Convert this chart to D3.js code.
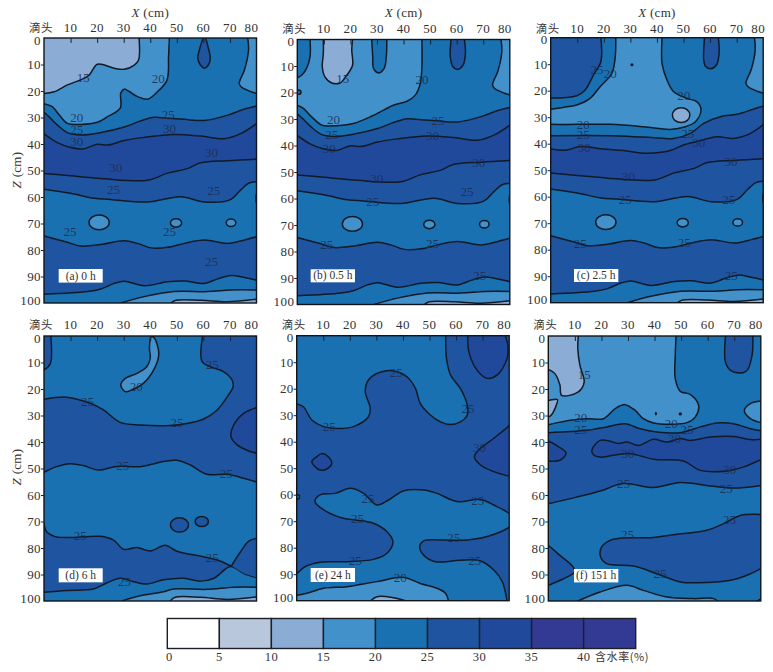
<!DOCTYPE html>
<html><head><meta charset="utf-8">
<script src="https://cdn.jsdelivr.net/npm/d3@7"></script>
<style>html,body{margin:0;padding:0;background:#fff}svg{display:block}</style>
</head><body><svg id="c" width="773" height="672"></svg>
<script>
// ---------- categories, ticks ----------
const legendValues = [0,5,10,15,20,25,30,35,40];
const legendUnit = "含水率(%)";
const xTickValues = [10,20,30,40,50,60,70,80];
const zTickValues = [0,10,20,30,40,50,60,70,80,90,100];
const emitterLabel = "滴头";
const panelNames = ["(a) 0 h","(b) 0.5 h","(c) 2.5 h","(d) 6 h","(e) 24 h","(f) 151 h"];
// band index = floor(moisture / 5)
const B10=2,B15=3,B20=4,B25=5,B30=6;

// ---------- isolines shared by (a)(b)(c): [X cm, Z cm] ----------
const iso25Upper=[[0,28],[1.9,29.7],[5,32.8],[8.8,35.7],[13.8,36.6],[21.4,35.7],[30.2,33.6],[36.5,31.2],[41.5,29.9],[46.5,30.3],[52.8,30.7],[60.4,31.1],[69.2,29.1],[75.5,26.8],[80,25.7]];
const iso30Upper=[[0,36.2],[5,39.5],[10,41.3],[14.5,41.9],[20.1,40.1],[23.9,40.4],[30.2,38.7],[37.7,37.5],[49,36.4],[59.1,37],[67.9,38],[74.2,36],[80,32.3]];
const iso30Lower=[[0,51.1],[10,52],[21.4,53],[39,53.7],[46.5,51],[54,49.3],[59,47.1],[69.2,46.3],[80,45.7]];
const iso25Mid=[[0,57.1],[10,58.6],[19,60.5],[25,60.9],[39,61.9],[51.5,59.9],[60.4,61.9],[70,61.1],[74,57.4],[77,54.8],[80,54.2]];
const iso25Low=[[0,74.7],[8.8,77.1],[13.8,78.5],[21.4,77.9],[30.2,76.5],[35.2,77.5],[40.3,79.2],[46.5,79],[52.8,77.5],[60.4,76.2],[69.2,77.5],[75.5,76.2],[80,75]];
const iso25Deep=[[0,96.7],[16.4,95.7],[21.4,94.7],[26.4,92.6],[30.2,91.8],[37.7,93.5],[46.5,92],[52.8,91.7],[60.4,92.6],[65.4,90.9],[70.4,89.6],[75.5,90.4],[80,91.4]];
const iso20Deep=[[28.9,100],[37.7,97.6],[49,95.7],[61.6,95.7],[70.4,95.1],[80,95.1]];
const iso15Deep=[[47.8,100],[49.7,99],[59.1,99],[69,99.5],[80,98.6]];
const isoRightTop=[[76.7,0],[77,4.5],[75.5,12],[73.5,17.1],[74.2,18.4],[78,20.3],[80,20.9]];

// ---------- panel (a) ----------
const a20=[[47.2,0],[46.9,7],[46.3,15.9],[42.8,20.2],[39,23.1],[35.2,22.1],[32.1,20.2],[30.2,19.3],[28.9,20.8],[28.7,26.5],[23.9,29.7],[20.1,31.8],[13.8,32.6],[8.8,32.2],[5.7,29],[3.1,25.9],[0,24.8]];
const a15=[[35.8,0],[35.6,8.3],[34,10.2],[30.2,11.8],[26.4,11.4],[20.1,9.9],[17,14],[13.8,15.8],[8.8,17.7],[3.8,20.3],[0,20.9]];
const aDrop=[[60.4,-.5],[58.5,4.5],[57.9,7.7],[58.9,10.2],[60.4,11.4],[61.9,10.2],[62.6,7.7],[61.9,3.9]];
const lowerOvals=[[B15,20.75,69.6,3.8,2.8],[B15,49.7,69.8,2.1,1.6],[B15,70.4,69.7,1.8,1.4],[B15,80.2,60.5,.4,1.8]];
const aLabels=[["15",14.8,15],["20",43,15.5],["20",12.3,30.3],["25",12.3,34.7],["30",12.3,39.4],["25",46.8,29],["30",47.2,34.3],["30",63.1,43.5],["30",27,49.2],["25",26.2,57.4],["25",63.9,57.7],["25",9.8,73.1],["25",47.2,73.1],["25",63.1,84.4]];

// ---------- panel (b) ----------
const b20=[[46.9,0],[46.9,10.3],[46.3,16.6],[44.4,21],[41.3,23.3],[36.2,24.8],[28.7,28.6],[21.1,31.7],[12.3,32.6],[9.2,32.3],[5.4,29.2],[2.3,26],[0,24.8]];
const bLeft=[[4.8,0],[4.8,6.5],[3.5,10.9],[1.6,13.5],[0,14.5]];
const b15=[[9.8,0],[9.8,5.3],[9.4,10.3],[10.4,14.1],[13,16.4],[16.1,16.4],[18.6,13.5],[20.8,9.7],[20.5,4],[20.8,0]];
const bDrop30=[[28,0],[28.4,6.5],[28.7,10.9],[30.6,12.6],[32.7,10.9],[33.5,6.5],[33.7,0]];
const bDrop60=[[57.9,0],[57.6,6.5],[58.6,10.3],[60.4,11.3],[62.4,9.7],[63.3,5.3],[62.9,0]];
const bOvals=[[B20,.4,19.9,1,.8]];
const bLabels=[["15",17.1,15],["20",46.9,15.3],["20",13.6,30.4],["25",13,36.1],["30",12,41.4],["25",53,30.7],["30",50.9,36.4],["30",68.3,46.5],["30",29.9,52.7],["25",28.4,61.3],["25",63.9,57.7],["25",11.1,77.6],["25",50.9,77.2],["25",68.7,89.3]];

// ---------- panel (c) ----------
const c20=[[24.5,-1],[24.5,0],[24.3,7.2],[23,13.5],[18.6,18.5],[14.8,22.9],[9.8,25.4],[4.8,26.3],[0,27],[-4,27.5],[-4,32.5],[0,32.7],[9.8,32.7],[22.4,32.7],[35,33.6],[45,34.6],[50.7,33.6],[54.5,31.7],[56.6,27.3],[55.1,24.2],[51.3,22.9],[46.3,20.4],[43.8,16],[41.9,9.7],[41.9,0],[41.9,-1]];
const cLeft=[[18.9,0],[18.9,9],[16.1,14.1],[13,19.7],[9.8,21.9],[0,22.8]];
const cDrop=[[57.9,0],[57.6,8.4],[58.2,10.7],[60.1,11.7],[62.4,10.3],[63.4,5.9],[63.1,0]];
const cIso25=[[0,37],[22.4,37],[35,37.5],[46.3,38],[52.6,36.1],[57.6,32.3],[63.9,29.8],[70.2,28.9],[76.5,26.9],[80.3,25.8]];
const cIso30=[[0,42],[6,42.4],[11,41.1],[19.9,42],[27.4,42.6],[36.2,43.6],[45,42.6],[50,40.5],[55,39.2],[62.6,37.4],[68.9,38],[75.2,36.1],[80.3,32.6]];
const cOvals=[[B10,49.1,29.2,3.3,2.8],[B25,30.6,10.2,.3,.3]];
const cLabels=[["25",17.4,12.2],["20",22.4,13.7],["20",50.1,22],["20",12.3,33],["25",12.3,36.7],["30",12.6,41.8],["25",51.6,36.4],["30",55.7,39.6],["30",67.9,47],["30",29.3,52.7],["25",28.1,61.3],["25",67,61.3],["25",11.1,77.9],["25",50.3,77.6],["25",68,89.8]];

// ---------- panel (d) ----------
const dLeft=[[2.6,0],[2.6,9.7],[1.6,11.6],[0,12.8]];
const dFinger=[[40.3,.3],[39.7,4.7],[40,8.4],[38.7,11.6],[35,14.1],[30.6,16],[28.9,18.5],[30.6,21],[33,20.4],[37.4,17.9],[41.3,12.8],[43.2,7.2],[42.5,2.8],[41.3,.5]];
const d25=[[59.7,0],[59.5,9.7],[62.6,11.6],[67.7,13.5],[70.8,16.6],[71.2,19.1],[69,22.9],[65.2,27.9],[60.1,31.3],[53.8,33],[47.5,33.8],[36.2,33.6],[28.7,32.6],[22.4,27.9],[17.4,25.4],[8.6,23.1],[0,23.9]];
const dMid=[[0,51.4],[4.8,49.3],[9.8,48.2],[14.8,48.9],[20.5,50.6],[27.4,49.2],[36.2,49.3],[45,47.4],[50,46.9],[55.1,48.7],[61.4,52.2],[68.9,52.2],[75.2,53.7],[80.3,55.2]];
const dRight=[[82,26.6],[80.3,26.9],[75.2,29.2],[71.4,33.6],[70.4,38],[72.7,41.1],[77.1,43.4],[80.3,44.3],[82,44.6]];
const dLow=[[0,70.7],[1,73.9],[4.2,75.7],[11,76],[21.1,75.6],[26.2,77],[30,80.5],[35,79.8],[40,81.1],[45.7,79],[50,81.2],[60.1,83.3],[65.2,84.5],[70.2,86.7],[75.2,89.6],[80.3,91.2]];
const dDeep=[[0,96.7],[8.6,96],[18.6,95.5],[23.6,93.2],[28.7,91.4],[33.7,92.7],[38.7,93.6],[45,92],[52.6,91.4],[58.9,92.5],[64,91.4],[70.2,87],[75.2,89.6],[80.3,91.2]];
const dTri=[[70.6,86.7],[74,81.4],[77.1,77.4],[80.3,76.3]];
const d20b=[[29.3,100],[36.2,98],[45,96.5],[48.8,95.5],[61.4,95.6],[71.4,94.8],[80.3,94.8]];
const d15b=[[47.5,100],[49.4,98.6],[58.9,98.6],[68.9,99.4],[80.3,98.4]];
const dOvals=[[B25,51,71.3,3.4,2.7],[B25,59.4,70,2.5,1.9]];
const dLabels=[["25",63.3,10.9],["20",34.7,19.1],["25",16.4,25],["25",50.1,32.7],["25",29.6,49.1],["25",68.6,52],["25",13.6,75.6],["25",63.3,83.9],["25",30.3,93]];

// ---------- panel (e) ----------
const e20top=[[56.1,0],[56.4,8.6],[57.9,14.8],[61.6,19.9],[64.2,26.2],[64.2,29.9],[61.6,32.5],[57.9,33.5],[54.1,32.5],[50.3,29.9],[46.5,25.5],[44.7,19.9],[41.5,15.5],[36.5,13.3],[31.4,13.8],[27,16.7],[25.8,21.1],[27.7,27.4],[27,30.6],[21.4,34.3],[16.4,35],[10.1,34.3],[5.7,31.8],[2.5,26.8],[0,25.8]];
const e30top=[[64.4,-1],[64.4,0],[64.8,6],[67.9,13],[71.7,16.1],[75.5,14.8],[79.2,8.6],[79.5,3.5],[78.6,0],[78.6,-1]];
const e30blob=[[5.7,47.5],[7.5,45.7],[9.4,44.5],[11.9,45.7],[13.2,48.2],[11.3,50.3],[8.8,50.7],[6.9,49.4]];
const e30right=[[82,32],[80.5,33.5],[74.2,38.7],[69.2,42.5],[66.9,45.7],[69.2,48.8],[74.2,51.3],[80.5,53.2],[82,53.6]];
const e20mid=[[6.9,62.6],[8.8,60.1],[14.5,59.5],[20.1,57.6],[25.2,59.5],[30.2,63.9],[34.6,62],[40.3,58.5],[47.8,58.2],[52.8,59.5],[60.4,62.6],[69.2,61.8],[74.2,63.9],[80.8,67.7],[82,70],[80.8,71.7],[71.7,75.8],[64.2,77.1],[55.3,77.1],[47.8,77.4],[46.3,79.6],[47.8,82.8],[52.2,85.3],[61.6,84.7],[69.2,85],[74.2,88.4],[77.4,92.8],[79,99.1],[79.2,100.6],[79,104],[-3,104],[-3,91],[0,89.7],[3.1,87.2],[8.8,85.5],[17.6,85.3],[28.9,84.4],[34,82.1],[36.2,77.7],[34,74],[28.9,70.8],[22.6,69.6],[17.6,68.9],[11.3,66.4]];
const e15b=[[0,97.9],[3.8,97.2],[10.1,95.3],[18.9,94.7],[30.2,92.8],[40.3,91.2],[46.5,93.5],[52.8,95.3],[56,97.2],[57.2,100.4]];
const e10b=[[27.7,100.2],[30.2,98.5],[36.5,98.9],[41.5,100.2]];
const eOvals=[[B20,.4,60.8,.7,.8]];
const eLabels=[["25",37.5,14.1],["25",64.5,27.5],["25",12.3,34.3],["30",68.8,42.5],["25",26.8,61.5],["25",22.9,69.2],["25",68.2,62.3],["25",59.1,76.2],["25",67,85],["25",22,85],["20",39,91.6]];

// ---------- panel (f) ----------
const f20=[[48.1,0],[47.8,7.3],[47.8,16.1],[49.7,20.9],[53.5,22.1],[56.6,26.2],[55.3,30.6],[52.2,32.7],[45.9,33.3],[39.6,32.8],[35.8,31.2],[32.7,28.1],[28.9,25.9],[25.2,27.4],[20.8,31.2],[14.5,31.2],[8.2,31.8],[4.4,32.5],[0,33.5]];
const f15=[[11.3,0],[11.1,4.8],[11.9,11.1],[13.5,17.4],[11.3,21.1],[5,22.4],[4.4,18.6],[2.5,14.2],[0,12.6]];
const f15left=[[-2,24.4],[0,24.3],[3.4,24],[2.5,27.4],[1.3,29.6],[0,30.6],[-2,31]];
const f20right=[[82,24.2],[80.1,24.5],[76.1,25.5],[73.8,28],[76.1,31.2],[80.1,32.7],[82,33]];
const fTop25=[[66.7,0],[66.7,9.8],[68.6,13],[71.7,14],[74.8,13],[76.7,7.3],[77,0]];
const fIso25=[[0,36.5],[14.5,35.6],[22,34.3],[28.9,33.1],[34.6,35],[40.9,36.2],[49.7,36.5],[57.2,34.3],[63.5,32.8],[69.8,33.1],[76.1,35],[80.1,35.8]];
const fLobe=[[-2,38.8],[0,39.6],[3.1,41.3],[6.7,44.2],[4.4,46.9],[0,47.2],[-2,47.2]];
const f30=[[16.4,43.1],[19.5,39.4],[23.3,39.7],[26.4,40.6],[29.6,40],[34,41.3],[39.6,39],[44.7,40],[49.7,38.7],[53.5,39.4],[61,38.1],[69.8,37.9],[76.1,39.1],[80.1,39],[83,39],[83,46],[80.1,46.7],[73.6,49.4],[67.3,50.9],[57.2,50.7],[50.9,47.2],[39.6,46.5],[30.8,44.4],[24.5,45],[19.5,45.7],[17,44.8]];
const fMid=[[0,63.3],[10.7,60.8],[19.5,58.5],[28.3,55.7],[39.6,57.2],[49.7,55.3],[61,56.6],[69.8,57.4],[80.1,56.4]];
const fBlob=[[82,67.2],[80.1,67.3],[72.3,67.7],[66,70.8],[59.7,73.3],[48.4,74.8],[38.4,76.1],[28.3,76.2],[23.3,77.1],[20.1,79.6],[19.7,83.4],[22,85.9],[32.1,86.8],[40.9,89.7],[49.7,92.8],[56,93.1],[68.6,92.2],[74.8,90.3],[80.1,87.8],[82,87]];
const fLeftLow=[[-2,77.5],[0,79],[4.4,82.8],[9.4,87.2],[10,89],[5.7,91.6],[0,94.1],[-2,95]];
const fBottom=[[10.7,100.2],[19.5,96.6],[29.6,94.1],[35.8,96],[44.7,98.5],[54.7,99.1],[62.3,99.1],[64.2,100.4]];
const fCorner=[[78,100.4],[80.1,99.1]];
const fOvals=[[B25,40.5,29.3,.12,.4],[B25,49.7,29.4,.35,.35]];
const fLabels=[["15",13.5,14.6],["20",12.2,30.8],["25",12.2,35.3],["20",46.3,33.1],["25",52.2,35.3],["30",47.5,39],["30",29.9,44.7],["30",68.3,50.7],["25",28.3,56],["25",67,57.6],["25",68.2,69.6],["25",29.8,75.2],["25",42.1,89.7]];

// ---------- styles and layout ----------
const bandColors=["#ffffff","#b9c7dd","#8badd5","#4391ca","#1a71b2","#1f55a0","#21499b","#333a93","#333a93"];
const serif='"Liberation Serif","Times New Roman",serif', cjk='"Noto Sans CJK SC",sans-serif';
const panelW=212.5, panelH=265;
const layout=[
 {left:44,top:38,box:[58.7,269,44,13.6],lab:27.5},
 {left:297.3,top:39.5,box:[310.7,269.3,44.3,13],lab:28},
 {left:550.7,top:37.7,box:[574,269,44.3,13],lab:28},
 {left:44,top:336,box:[58.7,568.3,44,14],lab:324},
 {left:296.7,top:335.7,box:[310.7,568,44.3,14],lab:324},
 {left:548.3,top:336,box:[574,569,44.3,13.4],lab:324}];

// layer kinds: below = line closed down to the bottom; to = line closed through given data corners; loop = closed curve
const below=(b,l)=>({b,l,to:[[l[l.length-1][0],104],[l[0][0],104]]});
const to=(b,l,c)=>({b,l,to:c});
const loop=(b,l)=>({b,l,loop:true});
const lowerABC=[below(B30,iso30Upper)];
const abcTail=[below(B25,iso30Lower),below(B20,iso25Mid)];
const abcDeep=[below(B25,iso25Low),below(B20,iso25Deep),below(B15,iso20Deep),below(B10,iso15Deep)];
const rightTop=to(B15,isoRightTop,[[80,0]]);
const panels=[
 {bg:B20,pre:[to(B15,a20,[[0,0]]),to(B10,a15,[[0,0]]),rightTop,loop(B25,aDrop),below(B25,iso25Upper),...lowerABC,...abcTail],ov:lowerOvals,post:abcDeep,lb:aLabels},
 {bg:B20,pre:[to(B15,b20,[[0,0]]),to(B20,bLeft,[[0,0]]),to(B10,b15,[]),to(B20,bDrop30,[]),to(B25,bDrop60,[]),rightTop,below(B25,iso25Upper),...lowerABC,...abcTail],ov:[...bOvals,...lowerOvals],post:abcDeep,lb:bLabels},
 {bg:B20,pre:[to(B15,c20,[]),to(B25,cLeft,[[0,0]]),to(B25,cDrop,[]),rightTop,below(B25,cIso25),below(B30,cIso30),...abcTail],ov:[...cOvals,...lowerOvals],post:abcDeep,lb:cLabels},
 {bg:B20,pre:[to(B25,dLeft,[[0,0]]),loop(B15,dFinger),to(B25,d25,[[0,60],[83,60],[83,0]]),below(B20,dMid),loop(B30,dRight)],ov:dOvals,post:[below(B25,dLow),below(B20,dDeep),to(B25,dTri,[[83,76],[83,92],[80.3,91.2],[75.2,89.6]]),below(B15,d20b),below(B10,d15b)],lb:dLabels},
 {bg:B25,pre:[to(B20,e20top,[[0,0]]),to(B30,e30top,[]),loop(B30,e30blob),loop(B30,e30right),loop(B20,e20mid),to(B15,e15b,[[57.2,104],[0,104]]),to(B10,e10b,[])],ov:eOvals,post:[],lb:eLabels},
 {bg:B20,pre:[to(B15,f20,[[0,0]]),to(B10,f15,[[0,0]]),loop(B10,f15left),loop(B15,f20right),to(B25,fTop25,[]),below(B25,fIso25),loop(B30,fLobe),loop(B30,f30),below(B20,fMid),loop(B25,fBlob),loop(B25,fLeftLow),to(B15,fBottom,[]),to(B15,fCorner,[[80.1,104],[78,104]])],ov:fOvals,post:[],lb:fLabels}];

const svg=d3.select("#c");
const lineStroke="#111a26", lineWidth=1.5;
panels.forEach((p,i)=>{
  const L=layout[i];
  const x=d3.scaleLinear([0,80],[L.left,L.left+panelW]);
  const z=d3.scaleLinear([0,100],[L.top,L.top+panelH]);
  const line=d3.line().x(d=>x(d[0])).y(d=>z(d[1])).curve(d3.curveCatmullRom);
  const closed=d3.line().x(d=>x(d[0])).y(d=>z(d[1])).curve(d3.curveCatmullRomClosed);
  const clip="clip"+i;
  svg.append("clipPath").attr("id",clip).append("rect").attr("x",L.left).attr("y",L.top).attr("width",panelW).attr("height",panelH);
  const g=svg.append("g").attr("clip-path",`url(#${clip})`);
  g.append("rect").attr("x",L.left).attr("y",L.top).attr("width",panelW).attr("height",panelH).attr("fill",bandColors[p.bg]);
  const drawLayer=k=>{
    if(k.loop){
      g.append("path").attr("d",closed(k.l)).attr("fill",bandColors[k.b]).attr("stroke",lineStroke).attr("stroke-width",lineWidth);
    }else{
      const tail=k.to.map(c=>`L${x(c[0])},${z(c[1])}`).join("");
      g.append("path").attr("d",line(k.l)+tail+"Z").attr("fill",bandColors[k.b]);
      g.append("path").attr("d",line(k.l)).attr("fill","none").attr("stroke",lineStroke).attr("stroke-width",lineWidth);
    }
  };
  p.pre.forEach(drawLayer);
  p.ov.forEach(o=>{
    g.append("ellipse").attr("cx",x(o[1])).attr("cy",z(o[2]))
      .attr("rx",x(o[1]+o[3])-x(o[1])).attr("ry",z(o[2]+o[4])-z(o[2]))
      .attr("fill",bandColors[o[0]]).attr("stroke",lineStroke).attr("stroke-width",lineWidth);
  });
  p.post.forEach(drawLayer);
  // contour labels
  svg.append("g").selectAll("text").data(p.lb).join("text")
    .attr("x",d=>x(d[1])).attr("y",d=>z(d[2])+4).attr("text-anchor","middle")
    .attr("font-family",serif).attr("font-size",13).attr("fill","#1c2b4f").attr("fill-opacity",.85)
    .text(d=>d[0]);
  // frame
  svg.append("rect").attr("x",L.left).attr("y",L.top).attr("width",panelW).attr("height",panelH)
    .attr("fill","none").attr("stroke","#10151c").attr("stroke-width",1.4);
  // axes (ticks only, labels follow)
  const ax=svg.append("g").attr("transform",`translate(0,${L.top})`)
    .call(d3.axisTop(x).tickValues(xTickValues.slice(0,-1)).tickSize(-5).tickFormat(""));
  ax.select(".domain").remove(); ax.selectAll("line").attr("stroke","#1a2230");
  const az=svg.append("g").attr("transform",`translate(${L.left},0)`)
    .call(d3.axisLeft(z).tickValues(zTickValues.slice(1,-1)).tickSize(3).tickFormat(""));
  az.select(".domain").remove(); az.selectAll("line").attr("stroke","#1a2230");
  // x labels
  svg.append("g").selectAll("text").data(xTickValues).join("text")
    .attr("x",d=>x(d)+(d===80?-5:0)).attr("y",L.lab+4.5).attr("text-anchor","middle")
    .attr("font-family",serif).attr("font-size",13).attr("letter-spacing",.4).attr("fill","#333").text(d=>d);
  svg.append("text").attr("x",x(0)-3).attr("y",L.lab+4.5).attr("text-anchor","middle")
    .attr("font-family",cjk).attr("font-size",11.5).attr("letter-spacing",.5).attr("fill","#333").text(emitterLabel);
  // z labels
  svg.append("g").selectAll("text").data(zTickValues).join("text")
    .attr("x",L.left-3).attr("y",d=>z(d)+(d===0?6.5:d===100?1.5:4.5)).attr("text-anchor","end")
    .attr("font-family",serif).attr("font-size",13).attr("letter-spacing",.4).attr("fill","#333").text(d=>d);
  // panel tag
  svg.append("rect").attr("x",L.box[0]).attr("y",L.box[1]).attr("width",L.box[2]).attr("height",L.box[3]).attr("fill","#fff");
  svg.append("text").attr("x",L.box[0]+L.box[2]/2).attr("y",L.box[1]+L.box[3]-3).attr("text-anchor","middle")
    .attr("font-family",serif).attr("font-size",11.5).attr("fill","#333").text(panelNames[i]);
  // X (cm) titles on the top row
  if(i<3){
    const t=svg.append("text").attr("x",x(40)).attr("y",16.5).attr("text-anchor","middle")
      .attr("font-family",serif).attr("font-size",13).attr("fill","#333").attr("letter-spacing",.3);
    t.append("tspan").attr("font-style","italic").text("X");
    t.append("tspan").text(" (cm)");
  }
});
// Z (cm) titles
[[17,170],[17,467]].forEach(c=>{
  const t=svg.append("text").attr("transform",`translate(${c[0]+4},${c[1]}) rotate(-90)`).attr("text-anchor","middle")
    .attr("font-family",serif).attr("font-size",13).attr("fill","#333").attr("letter-spacing",.3);
  t.append("tspan").attr("font-style","italic").text("Z");
  t.append("tspan").text(" (cm)");
});
// legend
const lx=d3.scaleLinear([0,45],[167.3,635.7]);
const legendCells=legendValues.map(v=>v);
svg.append("g").selectAll("rect").data(legendCells).join("rect")
  .attr("x",d=>lx(d)).attr("y",618.5).attr("width",d=>lx(d+5)-lx(d)).attr("height",30)
  .attr("fill",(d,i)=>bandColors[i]).attr("stroke","#1c1f26").attr("stroke-width",1.4);
svg.append("g").selectAll("text").data(legendValues).join("text")
  .attr("x",d=>lx(d)+(d===0?2:0)).attr("y",661).attr("text-anchor","middle")
  .attr("font-family",serif).attr("font-size",12.5).attr("letter-spacing",.5).attr("fill","#333").text(d=>d);
svg.append("text").attr("x",595).attr("y",661).attr("font-family",cjk).attr("font-size",11).attr("letter-spacing",.6).attr("fill","#333").text(legendUnit);
</script></body></html>
